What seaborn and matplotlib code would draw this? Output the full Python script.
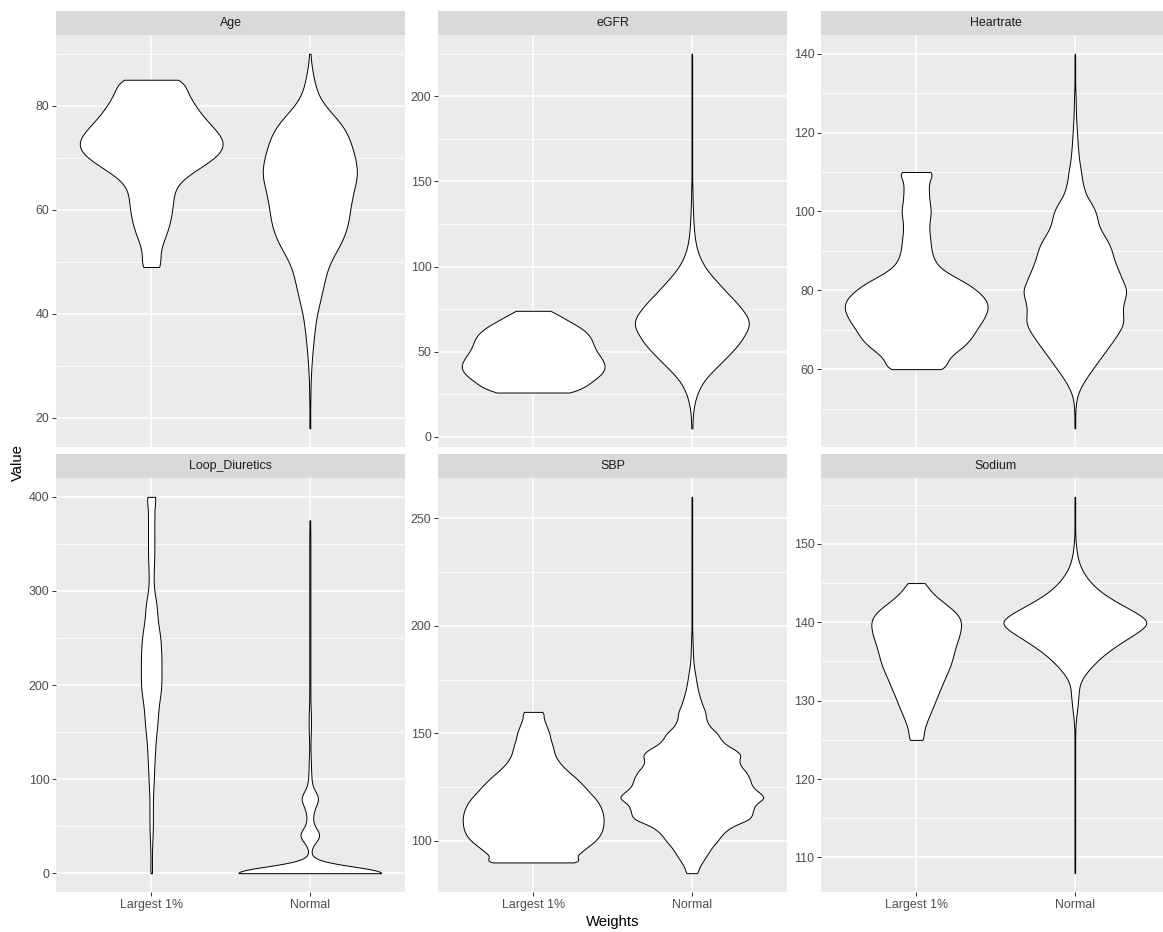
import numpy as np
import pandas as pd
import matplotlib
matplotlib.use("Agg")
import matplotlib.pyplot as plt
from matplotlib.patches import Rectangle
from matplotlib.ticker import MultipleLocator
import seaborn as sns

# ---------------- data (value levels and estimated frequencies) ----------------
groups = ["Largest 1%", "Normal"]
facets = ["Age", "eGFR", "Heartrate", "Loop_Diuretics", "SBP", "Sodium"]
tick_steps = [20, 50, 20, 100, 50, 10]
bandwidths = [1.6, 3.5, 1.4, 7.0, 1.6, 0.75]

age_largest_levels = [49, 51, 53, 55, 57, 59, 61, 63, 65, 67, 69, 71, 73, 75, 77, 79, 81, 83, 85]
age_largest_counts = [33, 23, 29, 42, 52, 58, 62, 64, 72, 112, 162, 203, 212, 190, 160, 135, 117, 97, 105]
age_normal_levels = [18, 20, 22, 24, 26, 28, 30, 32, 34, 36, 38, 40, 42, 44, 46, 48, 50, 52, 54,
                     56, 58, 60, 62, 64, 66, 68, 70, 72, 74, 76, 78, 80, 82, 84, 86, 88, 90]
age_normal_counts = [2, 1, 1, 2, 2, 3, 5, 7, 10, 13, 17, 21, 30, 36, 44, 50, 62, 80, 98,
                     110, 118, 121, 127, 133, 143, 143, 137, 128, 118, 102, 75, 45, 25, 16, 10, 4, 2]

egfr_largest_levels = [26, 29, 32, 35, 38, 41, 44, 47, 50, 53, 56, 59, 62, 65, 68, 71, 74]
egfr_largest_counts = [165, 140, 165, 190, 208, 213, 207, 195, 182, 174, 172, 168, 155, 132, 105, 70, 68]
egfr_normal_levels = [5, 10, 15, 20, 25, 30, 35, 40, 45, 50, 55, 60, 65, 70, 75, 80, 85, 90, 95, 100,
                      105, 110, 115, 120, 125, 130, 135, 140, 145, 150, 155, 160, 165, 170, 175,
                      180, 185, 190, 195, 200, 205, 210, 215, 220, 225]
egfr_normal_counts = [2, 2, 4, 8, 15, 26, 43, 68, 93, 118, 140, 155, 170, 166, 147, 126, 101, 79, 56, 37,
                      24, 15, 10, 7, 5, 4, 3, 2, 2, 1, 1, 1, 1, 1, 1,
                      1, 1, 1, 1, 1, 1, 1, 1, 1, 1]

hr_largest_levels = [60, 62, 64, 66, 68, 70, 72, 74, 76, 78, 80, 82, 84, 86, 88, 90, 92, 94, 96, 98,
                     100, 102, 104, 106, 108, 110]
hr_largest_counts = [95, 88, 112, 145, 165, 178, 195, 208, 215, 205, 180, 147, 100, 65, 52, 45, 43, 40, 38, 40,
                     45, 40, 38, 37, 37, 60]
hr_normal_levels = [45, 46, 48, 50, 52, 54, 56, 58, 60, 62, 64, 66, 68, 70, 72, 74, 76, 78, 80, 82,
                    84, 86, 88, 90, 92, 94, 96, 98, 100, 102, 104, 106, 108, 110, 112, 114, 116, 118,
                    120, 122, 124, 126, 128, 130, 132, 134, 136, 138, 140]
hr_normal_counts = [1, 1, 1, 2, 4, 10, 22, 37, 55, 72, 90, 108, 125, 142, 152, 148, 148, 155, 162, 150,
                    140, 130, 120, 115, 105, 90, 75, 70, 65, 52, 35, 28, 22, 20, 15, 12, 10, 8,
                    7, 5, 4, 3, 3, 2, 1, 1, 1, 1, 1]

loop_largest_levels = [0, 10, 20, 30, 40, 50, 60, 70, 80, 90, 100, 110, 120, 130, 140, 150, 160, 170, 180, 190,
                       200, 210, 220, 230, 240, 250, 260, 270, 280, 290, 300, 310, 320, 330, 340, 350, 360,
                       370, 380, 390, 400]
loop_largest_counts = [4, 3, 3, 4, 6, 7, 7, 7, 7, 9, 11, 12, 14, 16, 18, 22, 26, 28, 32, 38,
                       42, 42, 42, 42, 40, 38, 32, 26, 24, 20, 12, 10, 10, 12, 13, 13, 13,
                       13, 13, 13, 22]
loop_normal_levels = [0, 10, 20, 30, 40, 50, 60, 70, 80, 90, 100, 110, 120, 130, 140, 150, 160, 170, 180, 190,
                      200, 210, 220, 230, 240, 250, 260, 270, 280, 290, 300, 310, 320, 330, 340, 350, 360, 375]
loop_normal_counts = [215, 3, 1, 3, 25, 5, 5, 8, 20, 4, 3, 2, 2, 1, 1, 2, 2, 2, 1, 1,
                      1, 1, 1, 1, 1, 1, 1, 1, 1, 1, 1, 1, 1, 1, 1, 1, 1, 1]

sbp_largest_levels = [90, 92.5, 95, 97.5, 100, 102.5, 105, 107.5, 110, 112.5, 115, 117.5, 120, 122.5, 125,
                      127.5, 130, 132.5, 135, 137.5, 140, 142.5, 145, 147.5, 150, 152.5, 155, 157.5, 160]
sbp_largest_counts = [160, 125, 148, 168, 190, 203, 211, 214, 215, 213, 208, 200, 188, 172, 158,
                      142, 125, 105, 88, 75, 66, 62, 58, 52, 50, 43, 37, 30, 35]
sbp_normal_levels = [85, 87.5, 90, 92.5, 95, 97.5, 100, 102.5, 105, 107.5, 110, 112.5, 115, 117.5, 120,
                     122.5, 125, 127.5, 130, 132.5, 135, 137.5, 140, 142.5, 145, 147.5, 150, 152.5, 155,
                     157.5, 160, 162.5, 165, 167.5, 170, 172.5, 175, 177.5, 180, 182.5, 185, 187.5, 190,
                     192.5, 195, 197.5, 200, 202.5, 205, 207.5, 210, 212.5, 215, 217.5, 220, 222.5, 225,
                     227.5, 230, 232.5, 235, 237.5, 240, 242.5, 245, 247.5, 250, 252.5, 255, 257.5, 260]
sbp_normal_counts = [18, 20, 30, 40, 50, 60, 75, 85, 100, 125, 170, 175, 178, 185, 216,
                     195, 175, 170, 165, 155, 140, 135, 145, 125, 95, 82, 75, 55, 45,
                     40, 40, 32, 27, 22, 18, 15, 12, 10, 7, 5, 4, 3, 3,
                     2, 2, 1, 1, 1, 1, 1, 1, 1, 1, 1, 1, 1, 1,
                     1, 1, 1, 1, 1, 1, 1, 1, 1, 1, 1, 1, 1, 1]

na_largest_levels = [125, 126, 127, 128, 129, 130, 131, 132, 133, 134, 135, 136, 137, 138, 139, 140,
                     141, 142, 143, 144, 145]
na_largest_counts = [22, 18, 25, 33, 42, 50, 58, 67, 75, 85, 92, 97, 102, 110, 115, 118,
                     110, 85, 58, 35, 25]
na_normal_levels = [108, 109, 110, 111, 112, 113, 114, 115, 116, 117, 118, 119, 120, 121, 122, 123, 124,
                    125, 126, 127, 128, 129, 130, 131, 132, 133, 134, 135, 136, 137, 138, 139, 140,
                    141, 142, 143, 144, 145, 146, 147, 148, 149, 150, 151, 152, 153, 154, 155, 156]
na_normal_counts = [1, 1, 1, 1, 1, 1, 1, 1, 1, 1, 1, 1, 1, 1, 1, 1, 1,
                    1, 1, 2, 4, 7, 9, 11, 12, 22, 40, 60, 85, 115, 150, 185, 215,
                    180, 140, 100, 68, 45, 28, 16, 9, 5, 3, 1, 1, 1, 1, 1, 1]

series = {
    "Age": [(age_largest_levels, age_largest_counts), (age_normal_levels, age_normal_counts)],
    "eGFR": [(egfr_largest_levels, egfr_largest_counts), (egfr_normal_levels, egfr_normal_counts)],
    "Heartrate": [(hr_largest_levels, hr_largest_counts), (hr_normal_levels, hr_normal_counts)],
    "Loop_Diuretics": [(loop_largest_levels, loop_largest_counts), (loop_normal_levels, loop_normal_counts)],
    "SBP": [(sbp_largest_levels, sbp_largest_counts), (sbp_normal_levels, sbp_normal_counts)],
    "Sodium": [(na_largest_levels, na_largest_counts), (na_normal_levels, na_normal_counts)],
}

frames = []
for var in facets:
    for grp, (lv, ct) in zip(groups, series[var]):
        frames.append(pd.DataFrame({"Variable": var, "Weights": grp,
                                    "Value": np.repeat(np.asarray(lv, float), ct)}))
df = pd.concat(frames, ignore_index=True)

# ---------------- style ----------------
sns.set_theme(style="darkgrid", rc={
    "axes.facecolor": "#EBEBEB",
    "grid.color": "white",
    "figure.facecolor": "white",
})
plt.rcParams["font.family"] = ["Liberation Sans", "DejaVu Sans"]

W, H = 1163, 932
fig = plt.figure(figsize=(W / 100, H / 100), dpi=100)

col_x = [56, 438, 821]
panel_w = 349
row_top = [35, 478]
row_h = [412, 414]
strip_px = 24

for i, var in enumerate(facets):
    r, c = divmod(i, 3)
    x0, top, ph = col_x[c], row_top[r], row_h[r]
    ax = fig.add_axes([x0 / W, 1 - (top + ph) / H, panel_w / W, ph / H])
    sub = df[df["Variable"] == var]
    h = bandwidths[i]
    sns.violinplot(data=sub, x="Weights", y="Value", order=groups, ax=ax,
                   inner=None, cut=0, density_norm="area", common_norm=True,
                   width=0.9, gridsize=600,
                   bw_method=lambda k, h=h: h / np.std(k.dataset, ddof=1),
                   color="white", saturation=1, linecolor="black", linewidth=0.7)
    ax.set_xlim(-0.6, 1.6)
    vals = sub["Value"].to_numpy()
    lo, hi = vals.min(), vals.max()
    pad = 0.05 * (hi - lo)
    ax.set_ylim(lo - pad, hi + pad)
    ax.yaxis.set_major_locator(MultipleLocator(tick_steps[i]))
    ax.yaxis.set_minor_locator(MultipleLocator(tick_steps[i] / 2))
    ax.set_axisbelow(True)
    ax.grid(True, which="major", color="white", linewidth=1.1)
    ax.grid(True, which="minor", axis="y", color="white", linewidth=0.55)
    ax.xaxis.grid(True, which="major", color="white", linewidth=1.1)
    for s in ax.spines.values():
        s.set_visible(False)
    ax.set_xlabel("")
    ax.set_ylabel("")
    ax.tick_params(axis="both", which="major", labelsize=8.9, labelcolor="#4D4D4D",
                   color="#333333", length=2.6, width=0.7, pad=2.2, left=True, bottom=True)
    ax.tick_params(axis="y", which="minor", length=0)
    if r == 0:
        ax.tick_params(axis="x", labelbottom=False, length=0)
    # facet strip
    sh = strip_px / ph
    ax.add_patch(Rectangle((0, 1), 1, sh, transform=ax.transAxes, facecolor="#D9D9D9",
                           edgecolor="none", clip_on=False))
    ax.text(0.5, 1 + sh / 2, var, transform=ax.transAxes, ha="center", va="center",
            fontsize=8.9, color="#1A1A1A")

fig.text(18 / W, 1 - 463 / H, "Value", rotation=90, ha="center", va="center", fontsize=10.7, color="black")
fig.text(613 / W, 1 - 922 / H, "Weights", ha="center", va="center", fontsize=10.7, color="black")

fig.savefig("out.png", dpi=100)
